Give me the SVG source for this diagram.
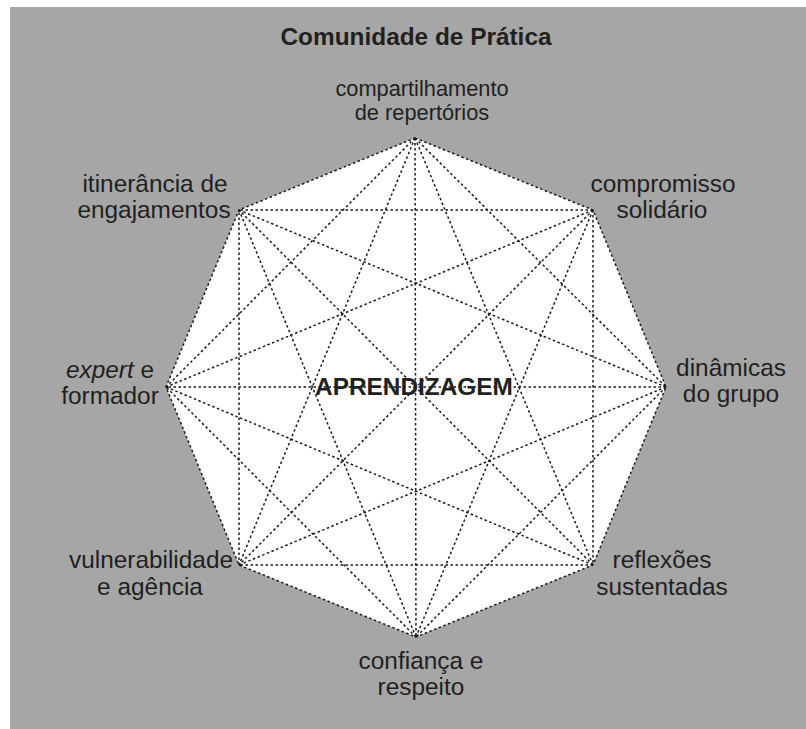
<svg xmlns="http://www.w3.org/2000/svg" width="806" height="729" viewBox="0 0 806 729">
  <style>
    text { font-family: "Liberation Sans", Arial, sans-serif; fill: #231f20; text-anchor: middle; }
    .lbl { font-size: 24.4px; }
    .top { font-size: 21.8px; }
    .bold { font-weight: bold; font-size: 24.4px; }
    .con line, .con polygon { stroke: #1a1a1a; stroke-width: 1.5; stroke-dasharray: 2.5 2.5; fill: none; }
  </style>
  <rect x="0" y="0" width="806" height="729" fill="#ffffff"/>
  <rect x="10" y="7" width="796" height="722" fill="#a6a6a6"/>
  <g id="title"><text class="bold" x="416" y="45">Comunidade de Prática</text></g>
  <polygon id="octagon" points="415,138 593,210 666,387 593,565 416,637 239,565 166,387 239,210" fill="#ffffff"/>
  <g id="connectors" class="con">
    <polygon points="415,138 593,210 666,387 593,565 416,637 239,565 166,387 239,210"/>
    <line x1="415" y1="138" x2="666" y2="387"/>
    <line x1="415" y1="138" x2="593" y2="565"/>
    <line x1="415" y1="138" x2="416" y2="637"/>
    <line x1="415" y1="138" x2="239" y2="565"/>
    <line x1="415" y1="138" x2="166" y2="387"/>
    <line x1="593" y1="210" x2="593" y2="565"/>
    <line x1="593" y1="210" x2="416" y2="637"/>
    <line x1="593" y1="210" x2="239" y2="565"/>
    <line x1="593" y1="210" x2="166" y2="387"/>
    <line x1="593" y1="210" x2="239" y2="210"/>
    <line x1="666" y1="387" x2="416" y2="637"/>
    <line x1="666" y1="387" x2="239" y2="565"/>
    <line x1="666" y1="387" x2="166" y2="387"/>
    <line x1="666" y1="387" x2="239" y2="210"/>
    <line x1="593" y1="565" x2="239" y2="565"/>
    <line x1="593" y1="565" x2="166" y2="387"/>
    <line x1="593" y1="565" x2="239" y2="210"/>
    <line x1="416" y1="637" x2="166" y2="387"/>
    <line x1="416" y1="637" x2="239" y2="210"/>
    <line x1="239" y1="565" x2="239" y2="210"/>
  </g>
  <g id="center"><text class="bold" x="414" y="395">APRENDIZAGEM</text></g>
  <g id="n-top"><text class="top" x="422" y="96">compartilhamento</text><text class="top" x="422" y="120">de repertórios</text></g>
  <g id="n-topright"><text class="lbl" x="663" y="192">compromisso</text><text class="lbl" x="662" y="218">solidário</text></g>
  <g id="n-right"><text class="lbl" x="731" y="376">dinâmicas</text><text class="lbl" x="731" y="402">do grupo</text></g>
  <g id="n-bottomright"><text class="lbl" x="662" y="568">reflexões</text><text class="lbl" x="662" y="595">sustentadas</text></g>
  <g id="n-bottom"><text class="lbl" x="421" y="669">confiança e</text><text class="lbl" x="421" y="695">respeito</text></g>
  <g id="n-bottomleft"><text class="lbl" x="151" y="568">vulnerabilidade</text><text class="lbl" x="150" y="595">e agência</text></g>
  <g id="n-left"><text class="lbl" x="110" y="378"><tspan font-style="italic">expert</tspan> e</text><text class="lbl" x="110" y="404">formador</text></g>
  <g id="n-topleft"><text class="lbl" x="155" y="192">itinerância de</text><text class="lbl" x="154" y="218">engajamentos</text></g>
</svg>
